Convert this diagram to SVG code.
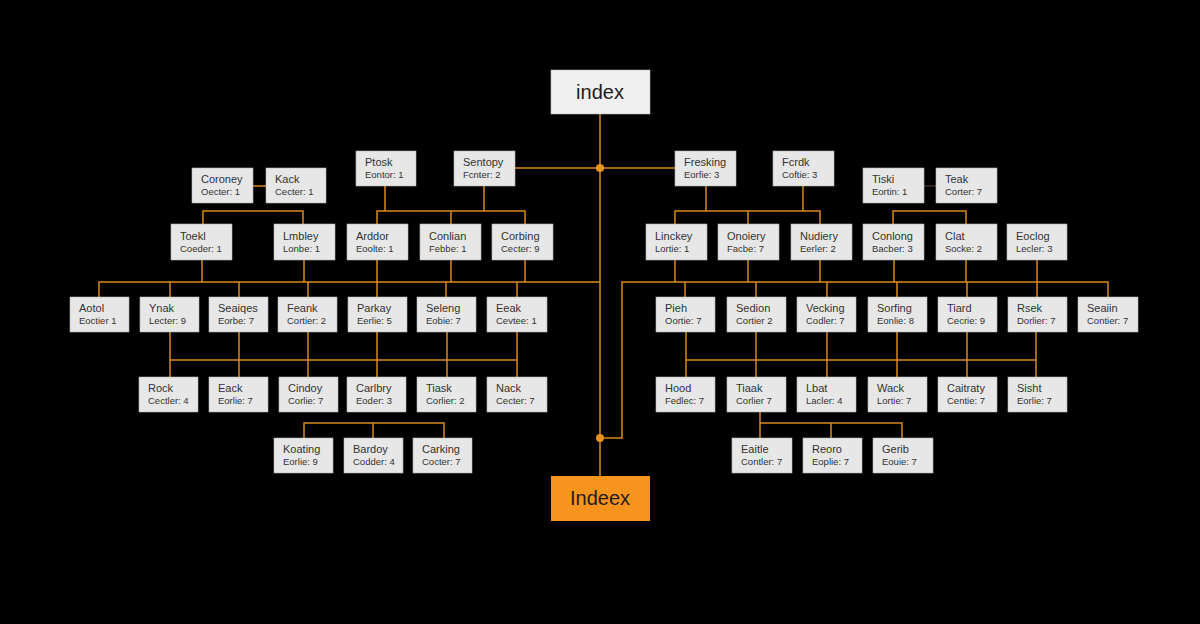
<svg xmlns="http://www.w3.org/2000/svg" width="1200" height="624" viewBox="0 0 1200 624">
<style>
.bg{fill:#000}
.n rect{fill:#e7e7e7;stroke:#b5b5b5;stroke-width:0.6}
.n text{font-family:"Liberation Sans",Arial,sans-serif;fill:#333}
.t1{font-size:11px}
.t2{font-size:9.5px;fill:#444}
.c path{fill:none;stroke:#d98a1e;stroke-width:1.5}
.c .faint{stroke:#5a4a33;stroke-width:1}
.c circle{fill:#e8921f}
.big text{font-family:"Liberation Sans",Arial,sans-serif;font-size:20px;fill:#1e1e1e;text-anchor:middle}
</style>
<rect class="bg" x="0" y="0" width="1200" height="624"/>

<g id="connectors" class="c">
<path d="M600 114V476"/>
<path d="M514 168H675"/>
<path d="M253 186H266"/>
<path class="faint" d="M924 186H936"/>
<path d="M203 224V211H303V224"/>
<path d="M385 186V211M484 186V211M377 224V211H525V224M451 211V224"/>
<path d="M706 186V211M803 186V211M675 224V211H820V224M748 211V224"/>
<path d="M893 224V211H966V224"/>
<path d="M202 260V282M304 260V282M377 260V282M451 260V282M525 260V282"/>
<path d="M99 297V282H600M170 282V297M239 282V297M308 282V297M377 282V297M446 282V297M517 282V297"/>
<path d="M675 260V282M748 260V282M820 260V282M894 260V282M966 260V282M1037 260V282"/>
<path d="M600 438H622V282H1108V297M685 282V297M756 282V297M827 282V297M897 282V297M967 282V297M1037 282V297"/>
<path d="M170 331V377M239 331V377M308 331V377M377 331V377M447 331V377M517 331V377M170 360H517"/>
<path d="M686 331V377M756 331V377M827 331V377M897 331V377M967 331V377M1036 331V377M686 360H1036"/>
<path d="M304 438V423H444V438M373 423V438"/>
<path d="M760 412V438M760 423H902V438M831 423V438"/>
<circle cx="600" cy="168" r="4"/>
<circle cx="600" cy="438" r="4"/>
</g>

<g id="index" class="big"><rect x="551" y="70" width="99" height="44" fill="#f0f0f0" stroke="#bbb" stroke-width="0.6"/><text x="600" y="99">index</text></g>
<g id="indeex" class="big"><rect x="551" y="476" width="99" height="45" fill="#f7941d"/><text x="600" y="505">Indeex</text></g>

<g id="n-ptosk" class="n"><rect x="356" y="151" width="60" height="35"/><text class="t1" x="365" y="166">Ptosk</text><text class="t2" x="365" y="178">Eontor: 1</text></g>
<g id="n-sentopy" class="n"><rect x="454" y="151" width="61" height="35"/><text class="t1" x="463" y="166">Sentopy</text><text class="t2" x="463" y="178">Fcnter: 2</text></g>
<g id="n-fresking" class="n"><rect x="675" y="151" width="61" height="35"/><text class="t1" x="684" y="166">Fresking</text><text class="t2" x="684" y="178">Eorfie: 3</text></g>
<g id="n-fcrdk" class="n"><rect x="773" y="151" width="61" height="35"/><text class="t1" x="782" y="166">Fcrdk</text><text class="t2" x="782" y="178">Coftie: 3</text></g>

<g id="n-coroney" class="n"><rect x="192" y="168" width="61" height="35"/><text class="t1" x="201" y="183">Coroney</text><text class="t2" x="201" y="195">Oecter: 1</text></g>
<g id="n-kack" class="n"><rect x="266" y="168" width="60" height="35"/><text class="t1" x="275" y="183">Kack</text><text class="t2" x="275" y="195">Cecter: 1</text></g>
<g id="n-tiski" class="n"><rect x="863" y="168" width="61" height="35"/><text class="t1" x="872" y="183">Tiski</text><text class="t2" x="872" y="195">Eortin: 1</text></g>
<g id="n-teak" class="n"><rect x="936" y="168" width="61" height="35"/><text class="t1" x="945" y="183">Teak</text><text class="t2" x="945" y="195">Corter: 7</text></g>

<g id="n-toekl" class="n"><rect x="171" y="224" width="61" height="36"/><text class="t1" x="180" y="240">Toekl</text><text class="t2" x="180" y="252">Coeder: 1</text></g>
<g id="n-lmbley" class="n"><rect x="274" y="224" width="61" height="36"/><text class="t1" x="283" y="240">Lmbley</text><text class="t2" x="283" y="252">Lonbe: 1</text></g>
<g id="n-arddor" class="n"><rect x="347" y="224" width="61" height="36"/><text class="t1" x="356" y="240">Arddor</text><text class="t2" x="356" y="252">Eoolte: 1</text></g>
<g id="n-conlian" class="n"><rect x="420" y="224" width="61" height="36"/><text class="t1" x="429" y="240">Conlian</text><text class="t2" x="429" y="252">Febbe: 1</text></g>
<g id="n-corbing" class="n"><rect x="492" y="224" width="61" height="36"/><text class="t1" x="501" y="240">Corbing</text><text class="t2" x="501" y="252">Cecter: 9</text></g>
<g id="n-linckey" class="n"><rect x="646" y="224" width="61" height="36"/><text class="t1" x="655" y="240">Linckey</text><text class="t2" x="655" y="252">Lortie: 1</text></g>
<g id="n-onoiery" class="n"><rect x="718" y="224" width="61" height="36"/><text class="t1" x="727" y="240">Onoiery</text><text class="t2" x="727" y="252">Facbe: 7</text></g>
<g id="n-nudiery" class="n"><rect x="791" y="224" width="61" height="36"/><text class="t1" x="800" y="240">Nudiery</text><text class="t2" x="800" y="252">Eerler: 2</text></g>
<g id="n-conlong" class="n"><rect x="863" y="224" width="61" height="36"/><text class="t1" x="872" y="240">Conlong</text><text class="t2" x="872" y="252">Bacber: 3</text></g>
<g id="n-clat" class="n"><rect x="936" y="224" width="61" height="36"/><text class="t1" x="945" y="240">Clat</text><text class="t2" x="945" y="252">Socke: 2</text></g>
<g id="n-eoclog" class="n"><rect x="1007" y="224" width="60" height="36"/><text class="t1" x="1016" y="240">Eoclog</text><text class="t2" x="1016" y="252">Lecler: 3</text></g>

<g id="n-aotol" class="n"><rect x="70" y="297" width="59" height="35"/><text class="t1" x="79" y="312">Aotol</text><text class="t2" x="79" y="324">Eoctier 1</text></g>
<g id="n-ynak" class="n"><rect x="140" y="297" width="59" height="35"/><text class="t1" x="149" y="312">Ynak</text><text class="t2" x="149" y="324">Lecter: 9</text></g>
<g id="n-seaiqes" class="n"><rect x="209" y="297" width="59" height="35"/><text class="t1" x="218" y="312">Seaiqes</text><text class="t2" x="218" y="324">Eorbe: 7</text></g>
<g id="n-feank" class="n"><rect x="278" y="297" width="59" height="35"/><text class="t1" x="287" y="312">Feank</text><text class="t2" x="287" y="324">Cortier: 2</text></g>
<g id="n-parkay" class="n"><rect x="348" y="297" width="59" height="35"/><text class="t1" x="357" y="312">Parkay</text><text class="t2" x="357" y="324">Eerlie: 5</text></g>
<g id="n-seleng" class="n"><rect x="417" y="297" width="59" height="35"/><text class="t1" x="426" y="312">Seleng</text><text class="t2" x="426" y="324">Eobie: 7</text></g>
<g id="n-eeak" class="n"><rect x="487" y="297" width="60" height="35"/><text class="t1" x="496" y="312">Eeak</text><text class="t2" x="496" y="324">Cevtee: 1</text></g>
<g id="n-pieh" class="n"><rect x="656" y="297" width="59" height="35"/><text class="t1" x="665" y="312">Pieh</text><text class="t2" x="665" y="324">Oortie: 7</text></g>
<g id="n-sedion" class="n"><rect x="727" y="297" width="59" height="35"/><text class="t1" x="736" y="312">Sedion</text><text class="t2" x="736" y="324">Cortier 2</text></g>
<g id="n-vecking" class="n"><rect x="797" y="297" width="59" height="35"/><text class="t1" x="806" y="312">Vecking</text><text class="t2" x="806" y="324">Codler: 7</text></g>
<g id="n-sorfing" class="n"><rect x="868" y="297" width="59" height="35"/><text class="t1" x="877" y="312">Sorfing</text><text class="t2" x="877" y="324">Eonlie: 8</text></g>
<g id="n-tiard" class="n"><rect x="938" y="297" width="59" height="35"/><text class="t1" x="947" y="312">Tiard</text><text class="t2" x="947" y="324">Cecrie: 9</text></g>
<g id="n-rsek" class="n"><rect x="1008" y="297" width="59" height="35"/><text class="t1" x="1017" y="312">Rsek</text><text class="t2" x="1017" y="324">Dorlier: 7</text></g>
<g id="n-seaiin" class="n"><rect x="1078" y="297" width="60" height="35"/><text class="t1" x="1087" y="312">Seaiin</text><text class="t2" x="1087" y="324">Contier: 7</text></g>

<g id="n-rock" class="n"><rect x="139" y="377" width="59" height="35"/><text class="t1" x="148" y="392">Rock</text><text class="t2" x="148" y="404">Cectler: 4</text></g>
<g id="n-eack" class="n"><rect x="209" y="377" width="59" height="35"/><text class="t1" x="218" y="392">Eack</text><text class="t2" x="218" y="404">Eorlie: 7</text></g>
<g id="n-cindoy" class="n"><rect x="279" y="377" width="59" height="35"/><text class="t1" x="288" y="392">Cindoy</text><text class="t2" x="288" y="404">Corlie: 7</text></g>
<g id="n-carlbry" class="n"><rect x="347" y="377" width="59" height="35"/><text class="t1" x="356" y="392">Carlbry</text><text class="t2" x="356" y="404">Eoder: 3</text></g>
<g id="n-tiask" class="n"><rect x="417" y="377" width="59" height="35"/><text class="t1" x="426" y="392">Tiask</text><text class="t2" x="426" y="404">Corlier: 2</text></g>
<g id="n-nack" class="n"><rect x="487" y="377" width="60" height="35"/><text class="t1" x="496" y="392">Nack</text><text class="t2" x="496" y="404">Cecter: 7</text></g>
<g id="n-hood" class="n"><rect x="656" y="377" width="59" height="35"/><text class="t1" x="665" y="392">Hood</text><text class="t2" x="665" y="404">Fedlec: 7</text></g>
<g id="n-tiaak" class="n"><rect x="727" y="377" width="59" height="35"/><text class="t1" x="736" y="392">Tiaak</text><text class="t2" x="736" y="404">Corlier 7</text></g>
<g id="n-lbat" class="n"><rect x="797" y="377" width="59" height="35"/><text class="t1" x="806" y="392">Lbat</text><text class="t2" x="806" y="404">Lacler: 4</text></g>
<g id="n-wack" class="n"><rect x="868" y="377" width="59" height="35"/><text class="t1" x="877" y="392">Wack</text><text class="t2" x="877" y="404">Lortie: 7</text></g>
<g id="n-caitraty" class="n"><rect x="938" y="377" width="59" height="35"/><text class="t1" x="947" y="392">Caitraty</text><text class="t2" x="947" y="404">Centie: 7</text></g>
<g id="n-sisht" class="n"><rect x="1008" y="377" width="59" height="35"/><text class="t1" x="1017" y="392">Sisht</text><text class="t2" x="1017" y="404">Eorlie: 7</text></g>

<g id="n-koating" class="n"><rect x="274" y="438" width="59" height="35"/><text class="t1" x="283" y="453">Koating</text><text class="t2" x="283" y="465">Eorlie: 9</text></g>
<g id="n-bardoy" class="n"><rect x="344" y="438" width="59" height="35"/><text class="t1" x="353" y="453">Bardoy</text><text class="t2" x="353" y="465">Codder: 4</text></g>
<g id="n-carking" class="n"><rect x="413" y="438" width="59" height="35"/><text class="t1" x="422" y="453">Carking</text><text class="t2" x="422" y="465">Cocter: 7</text></g>
<g id="n-eaitle" class="n"><rect x="732" y="438" width="60" height="35"/><text class="t1" x="741" y="453">Eaitle</text><text class="t2" x="741" y="465">Contler: 7</text></g>
<g id="n-reoro" class="n"><rect x="803" y="438" width="59" height="35"/><text class="t1" x="812" y="453">Reoro</text><text class="t2" x="812" y="465">Eoplie: 7</text></g>
<g id="n-gerib" class="n"><rect x="873" y="438" width="60" height="35"/><text class="t1" x="882" y="453">Gerib</text><text class="t2" x="882" y="465">Eouie: 7</text></g>
</svg>
